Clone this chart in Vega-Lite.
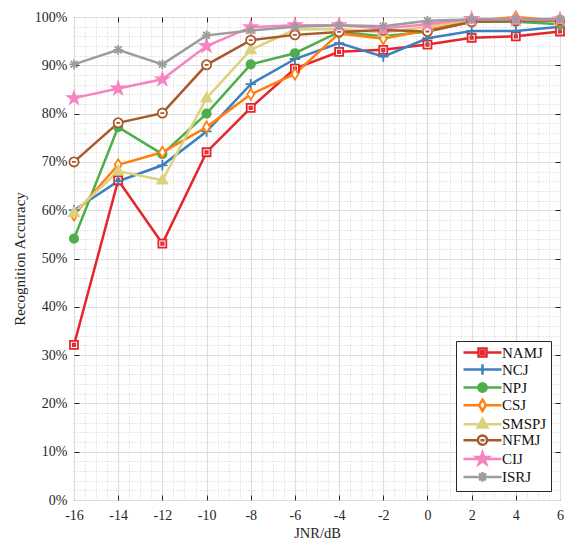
{
  "$schema": "https://vega.github.io/schema/vega-lite/v6.json",
  "width": 486,
  "height": 483,
  "autosize": "none",
  "padding": {"left": 74, "top": 17, "right": 5, "bottom": 42},
  "background": "white",
  "config": {
    "view": {"stroke": "#262626", "strokeWidth": 1},
    "font": "Liberation Serif",
    "axis": {"domain": false, "labelFont": "Liberation Serif", "titleFont": "Liberation Serif", "labelColor": "#262626", "titleColor": "#262626", "titleFontWeight": "normal", "tickColor": "#262626"}
  },
  "datasets": {
    "acc": [
      {"jnr": -16, "series": "NAMJ", "acc": 32.1}, {"jnr": -14, "series": "NAMJ", "acc": 66.2}, {"jnr": -12, "series": "NAMJ", "acc": 53.1}, {"jnr": -10, "series": "NAMJ", "acc": 72}, {"jnr": -8, "series": "NAMJ", "acc": 81.2}, {"jnr": -6, "series": "NAMJ", "acc": 89.3}, {"jnr": -4, "series": "NAMJ", "acc": 92.8}, {"jnr": -2, "series": "NAMJ", "acc": 93.2}, {"jnr": 0, "series": "NAMJ", "acc": 94.3}, {"jnr": 2, "series": "NAMJ", "acc": 95.7}, {"jnr": 4, "series": "NAMJ", "acc": 96}, {"jnr": 6, "series": "NAMJ", "acc": 97},
      {"jnr": -16, "series": "NCJ", "acc": 60}, {"jnr": -14, "series": "NCJ", "acc": 66}, {"jnr": -12, "series": "NCJ", "acc": 69.3}, {"jnr": -10, "series": "NCJ", "acc": 76.3}, {"jnr": -8, "series": "NCJ", "acc": 86.1}, {"jnr": -6, "series": "NCJ", "acc": 91.3}, {"jnr": -4, "series": "NCJ", "acc": 94.6}, {"jnr": -2, "series": "NCJ", "acc": 91.8}, {"jnr": 0, "series": "NCJ", "acc": 95.6}, {"jnr": 2, "series": "NCJ", "acc": 97.1}, {"jnr": 4, "series": "NCJ", "acc": 97.1}, {"jnr": 6, "series": "NCJ", "acc": 98},
      {"jnr": -16, "series": "NPJ", "acc": 54.1}, {"jnr": -14, "series": "NPJ", "acc": 77.2}, {"jnr": -12, "series": "NPJ", "acc": 71.6}, {"jnr": -10, "series": "NPJ", "acc": 80}, {"jnr": -8, "series": "NPJ", "acc": 90.2}, {"jnr": -6, "series": "NPJ", "acc": 92.5}, {"jnr": -4, "series": "NPJ", "acc": 96.9}, {"jnr": -2, "series": "NPJ", "acc": 96}, {"jnr": 0, "series": "NPJ", "acc": 97}, {"jnr": 2, "series": "NPJ", "acc": 99}, {"jnr": 4, "series": "NPJ", "acc": 99}, {"jnr": 6, "series": "NPJ", "acc": 98.5},
      {"jnr": -16, "series": "CSJ", "acc": 59}, {"jnr": -14, "series": "CSJ", "acc": 69.4}, {"jnr": -12, "series": "CSJ", "acc": 72}, {"jnr": -10, "series": "CSJ", "acc": 77.2}, {"jnr": -8, "series": "CSJ", "acc": 84}, {"jnr": -6, "series": "CSJ", "acc": 88.2}, {"jnr": -4, "series": "CSJ", "acc": 96.6}, {"jnr": -2, "series": "CSJ", "acc": 95.5}, {"jnr": 0, "series": "CSJ", "acc": 97.3}, {"jnr": 2, "series": "CSJ", "acc": 99.2}, {"jnr": 4, "series": "CSJ", "acc": 100}, {"jnr": 6, "series": "CSJ", "acc": 99.2},
      {"jnr": -16, "series": "SMSPJ", "acc": 59.5}, {"jnr": -14, "series": "SMSPJ", "acc": 68.1}, {"jnr": -12, "series": "SMSPJ", "acc": 66.2}, {"jnr": -10, "series": "SMSPJ", "acc": 83.2}, {"jnr": -8, "series": "SMSPJ", "acc": 93.2}, {"jnr": -6, "series": "SMSPJ", "acc": 97.4}, {"jnr": -4, "series": "SMSPJ", "acc": 97.5}, {"jnr": -2, "series": "SMSPJ", "acc": 96.8}, {"jnr": 0, "series": "SMSPJ", "acc": 98}, {"jnr": 2, "series": "SMSPJ", "acc": 99.5}, {"jnr": 4, "series": "SMSPJ", "acc": 99.5}, {"jnr": 6, "series": "SMSPJ", "acc": 99.2},
      {"jnr": -16, "series": "NFMJ", "acc": 70}, {"jnr": -14, "series": "NFMJ", "acc": 78.1}, {"jnr": -12, "series": "NFMJ", "acc": 80.1}, {"jnr": -10, "series": "NFMJ", "acc": 90.1}, {"jnr": -8, "series": "NFMJ", "acc": 95.2}, {"jnr": -6, "series": "NFMJ", "acc": 96.3}, {"jnr": -4, "series": "NFMJ", "acc": 96.9}, {"jnr": -2, "series": "NFMJ", "acc": 97.3}, {"jnr": 0, "series": "NFMJ", "acc": 97}, {"jnr": 2, "series": "NFMJ", "acc": 99}, {"jnr": 4, "series": "NFMJ", "acc": 99.2}, {"jnr": 6, "series": "NFMJ", "acc": 99.3},
      {"jnr": -16, "series": "CIJ", "acc": 83.2}, {"jnr": -14, "series": "CIJ", "acc": 85.2}, {"jnr": -12, "series": "CIJ", "acc": 87.1}, {"jnr": -10, "series": "CIJ", "acc": 94}, {"jnr": -8, "series": "CIJ", "acc": 97.9}, {"jnr": -6, "series": "CIJ", "acc": 98.3}, {"jnr": -4, "series": "CIJ", "acc": 98.3}, {"jnr": -2, "series": "CIJ", "acc": 97.6}, {"jnr": 0, "series": "CIJ", "acc": 98.5}, {"jnr": 2, "series": "CIJ", "acc": 99.6}, {"jnr": 4, "series": "CIJ", "acc": 99.5}, {"jnr": 6, "series": "CIJ", "acc": 99.5},
      {"jnr": -16, "series": "ISRJ", "acc": 90.2}, {"jnr": -14, "series": "ISRJ", "acc": 93.2}, {"jnr": -12, "series": "ISRJ", "acc": 90.2}, {"jnr": -10, "series": "ISRJ", "acc": 96.2}, {"jnr": -8, "series": "ISRJ", "acc": 97.2}, {"jnr": -6, "series": "ISRJ", "acc": 98}, {"jnr": -4, "series": "ISRJ", "acc": 98.3}, {"jnr": -2, "series": "ISRJ", "acc": 98.1}, {"jnr": 0, "series": "ISRJ", "acc": 99.2}, {"jnr": 2, "series": "ISRJ", "acc": 99.5}, {"jnr": 4, "series": "ISRJ", "acc": 99.5}, {"jnr": 6, "series": "ISRJ", "acc": 99.6}
    ]
  },
  "data": {"name": "acc"},
  "layer": [
    {
      "mark": {"type": "line", "opacity": 0},
      "encoding": {
        "x": {"field": "jnr", "type": "quantitative", "scale": {"domain": [-16, 6], "nice": false, "zero": false},
          "axis": {"orient": "bottom", "values": [-15.5,-15,-14.5,-13.5,-13,-12.5,-11.5,-11,-10.5,-9.5,-9,-8.5,-7.5,-7,-6.5,-5.5,-5,-4.5,-3.5,-3,-2.5,-1.5,-1,-0.5,0.5,1,1.5,2.5,3,3.5,4.5,5,5.5], "grid": true, "gridDash": [1, 2], "gridColor": "#c4c4c4", "gridWidth": 0.8, "labels": false, "ticks": false, "title": null}},
        "y": {"field": "acc", "type": "quantitative", "scale": {"domain": [0, 100], "nice": false},
          "axis": {"orient": "left", "values": [2,4,6,8,12,14,16,18,22,24,26,28,32,34,36,38,42,44,46,48,52,54,56,58,62,64,66,68,72,74,76,78,82,84,86,88,92,94,96,98], "grid": true, "gridDash": [1, 2], "gridColor": "#c4c4c4", "gridWidth": 0.8, "labels": false, "ticks": false, "title": null}},
        "detail": {"field": "series"}
      }
    },
    {
      "mark": {"type": "line", "opacity": 0},
      "encoding": {
        "x": {"field": "jnr", "type": "quantitative", "axis": {"orient": "top", "values": [-14,-12,-10,-8,-6,-4,-2,0,2,4], "grid": false, "labels": false, "ticks": true, "tickSize": -5, "title": null}},
        "y": {"field": "acc", "type": "quantitative", "axis": {"orient": "right", "values": [10,20,30,40,50,60,70,80,90], "grid": false, "labels": false, "ticks": true, "tickSize": -5, "title": null}},
        "detail": {"field": "series"}
      }
    },
    {
      "mark": {"type": "line", "opacity": 0},
      "encoding": {
        "x": {"field": "jnr", "type": "quantitative", "axis": {"orient": "bottom", "values": [-14,-12,-10,-8,-6,-4,-2,0,2,4], "grid": false, "labels": false, "ticks": true, "tickSize": -5, "title": null}},
        "y": {"field": "acc", "type": "quantitative", "axis": {"orient": "left", "values": [10,20,30,40,50,60,70,80,90], "grid": false, "labels": false, "ticks": true, "tickSize": -5, "title": null}},
        "detail": {"field": "series"}
      }
    },
    {
      "mark": {"type": "line", "strokeWidth": 2.5},
      "encoding": {
        "x": {"field": "jnr", "type": "quantitative",
          "axis": {"orient": "bottom", "values": [-16,-14,-12,-10,-8,-6,-4,-2,0,2,4,6], "grid": true, "gridColor": "#dedede", "gridWidth": 1.2, "ticks": false, "labelPadding": 8, "labelFontSize": 14, "labelExpr": "'' + datum.value", "labelFlush": false, "title": "JNR/dB", "titleFontSize": 14.5, "titlePadding": 4}},
        "y": {"field": "acc", "type": "quantitative",
          "axis": {"orient": "left", "values": [0,10,20,30,40,50,60,70,80,90,100], "grid": true, "gridColor": "#dedede", "gridWidth": 1.2, "ticks": false, "labelPadding": 7, "labelFontSize": 14, "labelExpr": "datum.value + '%'", "labelFlush": false, "title": "Recognition Accuracy", "titleFontSize": 15, "titlePadding": 7}},
        "stroke": {"field": "series", "type": "nominal", "legend": null,
          "scale": {"domain": ["NAMJ","NCJ","NPJ","CSJ","SMSPJ","NFMJ","CIJ","ISRJ"], "range": ["#e4262b","#3d80bd","#4fae4c","#ff8010","#ddd27c","#a85a2c","#f784c0","#9c9c9c"]}},
        "detail": {"field": "series"}
      }
    },
    {
      "mark": {"type": "point", "opacity": 1, "size": 64, "strokeWidth": 1.8},
      "encoding": {
        "x": {"field": "jnr", "type": "quantitative", "axis": null},
        "y": {"field": "acc", "type": "quantitative", "axis": null},
        "stroke": {"field": "series", "type": "nominal", "legend": null,
          "scale": {"domain": ["NAMJ","NCJ","NPJ","CSJ","SMSPJ","NFMJ","CIJ","ISRJ"], "range": ["#e4262b","#3d80bd","#4fae4c","#ff8010","#ddd27c","#a85a2c","#f784c0","#9c9c9c"]}},
        "fill": {"field": "series", "type": "nominal", "legend": null,
          "scale": {"domain": ["NAMJ","NCJ","NPJ","CSJ","SMSPJ","NFMJ","CIJ","ISRJ"], "range": ["#ffffff","#3d80bd","#4fae4c","#ffffff","#ddd27c","#ffffff","#f784c0","#9c9c9c"]}},
        "shape": {"field": "series", "type": "nominal", "legend": null,
          "scale": {"domain": ["NAMJ","NCJ","NPJ","CSJ","SMSPJ","NFMJ","CIJ","ISRJ"], "range": [
            "M-1,-1H1V1H-1ZM-0.3,-0.3H0.3V0.3H-0.3Z",
            "M-1.3,0H1.3M0,-1.3V1.3",
            "M-1.05,0A1.05,1.05 0 1,0 1.05,0A1.05,1.05 0 1,0 -1.05,0Z",
            "M0,-1.4L0.85,0L0,1.4L-0.85,0Z",
            "M0,-1.35L1.25,0.85L-1.25,0.85Z",
            "M-1.15,0A1.15,1.15 0 1,0 1.15,0A1.15,1.15 0 1,0 -1.15,0ZM-0.5,0H0.5",
            "M0,-1.6L0.359,-0.494L1.522,-0.494L0.581,0.189L0.941,1.294L0,0.611L-0.941,1.294L-0.581,0.189L-1.522,-0.494L-0.359,-0.494Z",
            "M-1.2,0H1.2M0,-1.2V1.2M-0.85,-0.85L0.85,0.85M-0.85,0.85L0.85,-0.85"]}}
      }
    },
    {
      "transform": [{"filter": "false"}],
      "mark": {"type": "point", "opacity": 1, "size": 64, "strokeWidth": 2.5},
      "encoding": {
        "x": {"field": "jnr", "type": "quantitative", "axis": null},
        "y": {"field": "acc", "type": "quantitative", "axis": null},
        "stroke": {"field": "series", "type": "nominal",
          "scale": {"domain": ["NAMJ","NCJ","NPJ","CSJ","SMSPJ","NFMJ","CIJ","ISRJ"], "range": ["#e4262b","#3d80bd","#4fae4c","#ff8010","#ddd27c","#a85a2c","#f784c0","#9c9c9c"]},
          "legend": {"title": null, "orient": "none", "legendX": 382, "legendY": 324, "direction": "vertical", "strokeColor": "#262626", "fillColor": "white", "padding": 4, "labelFontSize": 15, "labelFont": "Liberation Serif", "labelColor": "#111111", "symbolSize": 64, "symbolStrokeWidth": 2.5, "symbolOpacity": 1, "labelOffset": 27, "rowPadding": -3.3, "labelLimit": 200}},
        "fill": {"field": "series", "type": "nominal",
          "scale": {"domain": ["NAMJ","NCJ","NPJ","CSJ","SMSPJ","NFMJ","CIJ","ISRJ"], "range": ["#ffffff","#3d80bd","#4fae4c","#ffffff","#ddd27c","#ffffff","#f784c0","#9c9c9c"]}},
        "shape": {"field": "series", "type": "nominal",
          "scale": {"domain": ["NAMJ","NCJ","NPJ","CSJ","SMSPJ","NFMJ","CIJ","ISRJ"], "range": [
            "M-1,0H2.75M4.75,0H8.5M2.75,-1H4.75V1H2.75ZM3.45,-0.3H4.05V0.3H3.45Z",
            "M-1,0H8.5M3.75,-1.3V1.3",
            "M-1,0H8.5M2.7,0A1.05,1.05 0 1,0 4.8,0A1.05,1.05 0 1,0 2.7,0Z",
            "M-1,0H2.9M4.6,0H8.5M3.75,-1.4L4.6,0L3.75,1.4L2.9,0Z",
            "M-1,0H8.5M3.75,-1.35L5,0.85L2.5,0.85Z",
            "M-1,0H2.6M4.9,0H8.5M2.6,0A1.15,1.15 0 1,0 4.9,0A1.15,1.15 0 1,0 2.6,0ZM3.25,0H4.25",
            "M-1,0H8.5M3.75,-1.6L4.109,-0.494L5.272,-0.494L4.331,0.189L4.691,1.294L3.75,0.611L2.809,1.294L3.169,0.189L2.228,-0.494L3.391,-0.494Z",
            "M-1,0H8.5M3.75,-1.2V1.2M2.9,-0.85L4.6,0.85M2.9,0.85L4.6,-0.85"]}}
      }
    }
  ],
  "resolve": {"axis": {"x": "independent", "y": "independent"}, "scale": {"stroke": "independent", "fill": "independent", "shape": "independent"}}
}
